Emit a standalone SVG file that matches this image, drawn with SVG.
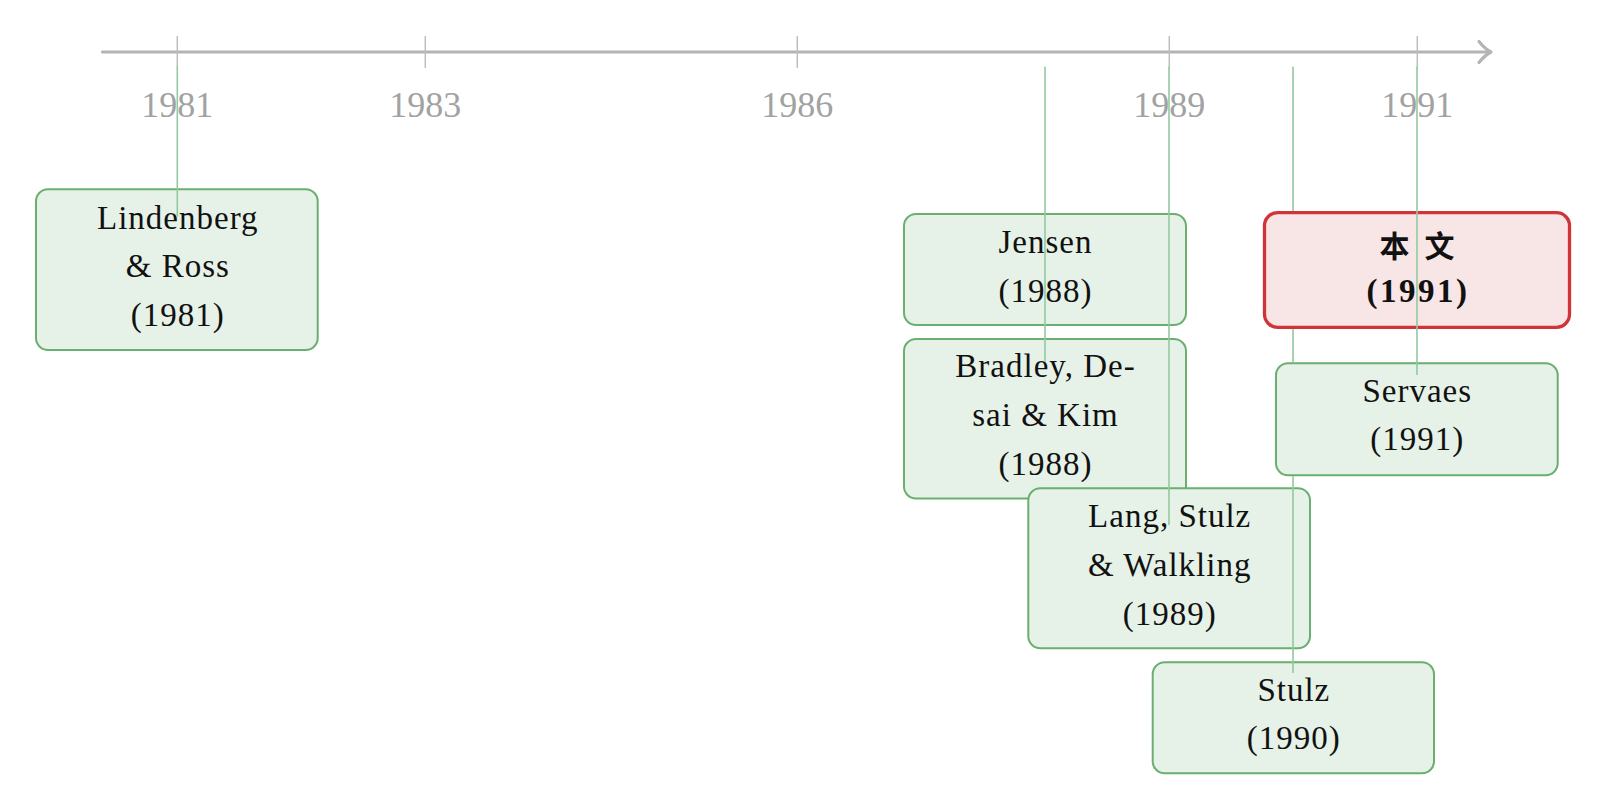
<svg xmlns="http://www.w3.org/2000/svg" width="1607" height="811" viewBox="0 0 1607 811">
<style>
.axis{stroke:#b4b4b4;stroke-width:3.2;fill:none;stroke-linecap:round;stroke-linejoin:round}
.tick{stroke:#bdbdbd;stroke-width:1.5}
.yr{font-family:"Liberation Serif","DejaVu Serif",serif;font-size:36px;fill:#a2a2a2;text-anchor:middle}
.box{fill:#e6f2e7;stroke:#6aaf70;stroke-width:2}
.hl{fill:#f8e5e6;stroke:#d13438;stroke-width:3.3}
.t{font-family:"Liberation Serif","DejaVu Serif",serif;font-size:33px;fill:#111;text-anchor:middle;letter-spacing:1px}
.b{font-weight:bold;letter-spacing:2.5px}
.cjk{font-family:"Noto Sans CJK SC","Noto Sans CJK JP",sans-serif;font-size:30px;font-weight:bold;fill:#111;text-anchor:middle;word-spacing:8px}
.con{stroke:#93c9a0;stroke-width:1.6;fill:none}
</style>
<g id="timeline">
<line class="axis" x1="102.5" y1="52" x2="1489" y2="52"/>
<path class="axis" d="M1479,41.5 Q1485,49 1491,52 Q1485,55 1479,62.5"/>
<line class="tick" x1="177.3" y1="36" x2="177.3" y2="68"/>
<line class="tick" x1="425.3" y1="36" x2="425.3" y2="68"/>
<line class="tick" x1="797.3" y1="36" x2="797.3" y2="68"/>
<line class="tick" x1="1169.3" y1="36" x2="1169.3" y2="68"/>
<line class="tick" x1="1417.3" y1="36" x2="1417.3" y2="68"/>
<text class="yr" x="177.3" y="116.7">1981</text>
<text class="yr" x="425.3" y="116.7">1983</text>
<text class="yr" x="797.3" y="116.7">1986</text>
<text class="yr" x="1169.3" y="116.7">1989</text>
<text class="yr" x="1417.3" y="116.7">1991</text>
</g>
<g id="lindenberg">
<rect class="box" x="36" y="189.3" width="281.7" height="160.7" rx="12"/>
<text class="t" x="177.8" y="228.5">Lindenberg</text>
<text class="t" x="177.8" y="277">&amp; Ross</text>
<text class="t" x="177.8" y="326">(1981)</text>
</g>
<g id="jensen">
<rect class="box" x="904" y="214" width="282" height="111" rx="12"/>
<text class="t" x="1045.5" y="252.5">Jensen</text>
<text class="t" x="1045.5" y="301.5">(1988)</text>
</g>
<g id="bradley">
<rect class="box" x="904" y="339" width="282" height="159.5" rx="12"/>
<text class="t" x="1045.5" y="377.3">Bradley, De-</text>
<text class="t" x="1045.5" y="426">sai &amp; Kim</text>
<text class="t" x="1045.5" y="474.5">(1988)</text>
</g>
<g id="lang">
<rect class="box" x="1028.3" y="488.3" width="281.7" height="160" rx="12"/>
<text class="t" x="1169.7" y="526.7">Lang, Stulz</text>
<text class="t" x="1169.7" y="576">&amp; Walkling</text>
<text class="t" x="1169.7" y="625">(1989)</text>
</g>
<g id="stulz">
<rect class="box" x="1152.7" y="662.3" width="281.3" height="111" rx="12"/>
<text class="t" x="1293.8" y="700.7">Stulz</text>
<text class="t" x="1293.8" y="749.3">(1990)</text>
</g>
<g id="benwen">
<rect class="hl" x="1264.5" y="212.7" width="305" height="114.6" rx="13"/>
<text class="cjk" x="1417" y="257">本 文</text>
<text class="t b" x="1418" y="302">(1991)</text>
</g>
<g id="servaes">
<rect class="box" x="1276" y="363.3" width="281.7" height="112" rx="12"/>
<text class="t" x="1417.3" y="401.7">Servaes</text>
<text class="t" x="1417.3" y="450">(1991)</text>
</g>
<g id="connectors">
<line class="con" x1="177.3" y1="66.7" x2="177.3" y2="216.7"/>
<line class="con" x1="1045" y1="66.7" x2="1045" y2="362"/>
<line class="con" x1="1169" y1="66.7" x2="1169" y2="525"/>
<path class="con" d="M1293,66.7 V211 M1293,329 V362.3 M1293,476.3 V673"/>
<line class="con" x1="1417" y1="66.7" x2="1417" y2="375"/>
</g>
</svg>
